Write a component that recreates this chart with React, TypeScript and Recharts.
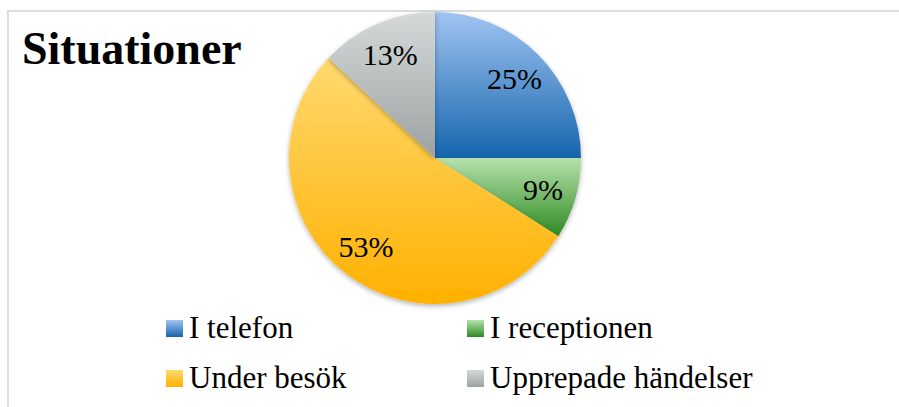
import React from "react";
import { PieChart, Pie, Cell, Legend } from "recharts";

const categories = ["I telefon", "I receptionen", "Under besök", "Upprepade händelser"];
const shares = [25, 9, 53, 13];
const gradientTop = ["#a0c4f2", "#b6e2ad", "#ffd970", "#d5d9d9"];
const gradientBottom = ["#1565ad", "#2e8a22", "#ffb100", "#9ca2a2"];
const title = "Situationer";

const data = categories.map((name, i) => ({ name, value: shares[i] }));

const RAD = Math.PI / 180;
const FONT = "'Liberation Serif', 'DejaVu Serif', serif";

const renderLabel = (props: any) => {
  const { cx, cy, midAngle, outerRadius, value } = props;
  const r = outerRadius * 0.77;
  const x = cx + r * Math.cos(-midAngle * RAD);
  const y = cy + r * Math.sin(-midAngle * RAD);
  return (
    <text x={x} y={y} textAnchor="middle" dominantBaseline="central" fill="#000" fontFamily={FONT} fontSize={30}>
      {value}%
    </text>
  );
};

const renderLegend = () => {
  return (
    <svg width={899} height={107} style={{ display: "block" }}>
      <defs>
        {categories.map((_, i) => (
          <linearGradient key={i} id={`lg${i}`} x1="0" y1="0" x2="0" y2="1">
            <stop offset="0%" stopColor={gradientTop[i]} />
            <stop offset="100%" stopColor={gradientBottom[i]} />
          </linearGradient>
        ))}
      </defs>
      {categories.map((name, i) => {
        const col = i % 2;
        const row = Math.floor(i / 2);
        const sx = col === 0 ? 166 : 467;
        const base = 38 + row * 50;
        return (
          <g key={i}>
            <rect x={sx} y={base - 18} width={17} height={17} fill={`url(#lg${i})`} />
            <text x={sx + 23} y={base} fontFamily={FONT} fontSize={31} fill="#000">
              {name}
            </text>
          </g>
        );
      })}
    </svg>
  );
};

export default function App() {
  return (
    <div style={{ position: "absolute", left: 0, top: 0, width: 899, height: 407, overflow: "hidden", background: "#fff" }}>
      <svg width={899} height={407} style={{ position: "absolute", left: 0, top: 0 }}>
        <line x1={7} y1={11} x2={899} y2={11} stroke="#dcdcdc" strokeWidth={2} />
        <line x1={8} y1={10} x2={8} y2={407} stroke="#dcdcdc" strokeWidth={2} />
      </svg>
      <div style={{ position: "absolute", left: 0, top: 0 }}>
        <PieChart width={899} height={407} margin={{ top: 0, right: 0, bottom: 0, left: 0 }}>
          <defs>
            {categories.map((_, i) => (
              <linearGradient key={i} id={`pg${i}`} x1="0" y1="0" x2="0" y2="1">
                <stop offset="0%" stopColor={gradientTop[i]} />
                <stop offset="100%" stopColor={gradientBottom[i]} />
              </linearGradient>
            ))}
            <filter id="shadow" x="-20%" y="-20%" width="140%" height="140%">
              <feDropShadow dx="0" dy="2" stdDeviation="2.5" floodColor="#000" floodOpacity="0.3" />
            </filter>
          </defs>
          <Pie
            data={data}
            dataKey="value"
            nameKey="name"
            cx={435}
            cy={158}
            outerRadius={146}
            startAngle={90}
            endAngle={-270}
            stroke="none"
            label={renderLabel}
            labelLine={false}
            isAnimationActive={false}
            style={{ filter: "url(#shadow)" }}
          >
            {data.map((_, i) => (
              <Cell key={i} fill={`url(#pg${i})`} stroke="none" />
            ))}
          </Pie>
          <Legend
            content={renderLegend}
            wrapperStyle={{ position: "absolute", left: 0, top: 300, width: 899, height: 107 }}
          />
        </PieChart>
      </div>
      <svg width={899} height={407} style={{ position: "absolute", left: 0, top: 0, pointerEvents: "none" }}>
        <text x={22} y={64} fontFamily={FONT} fontWeight="bold" fontSize={46} fill="#000">
          {title}
        </text>
      </svg>
    </div>
  );
}
